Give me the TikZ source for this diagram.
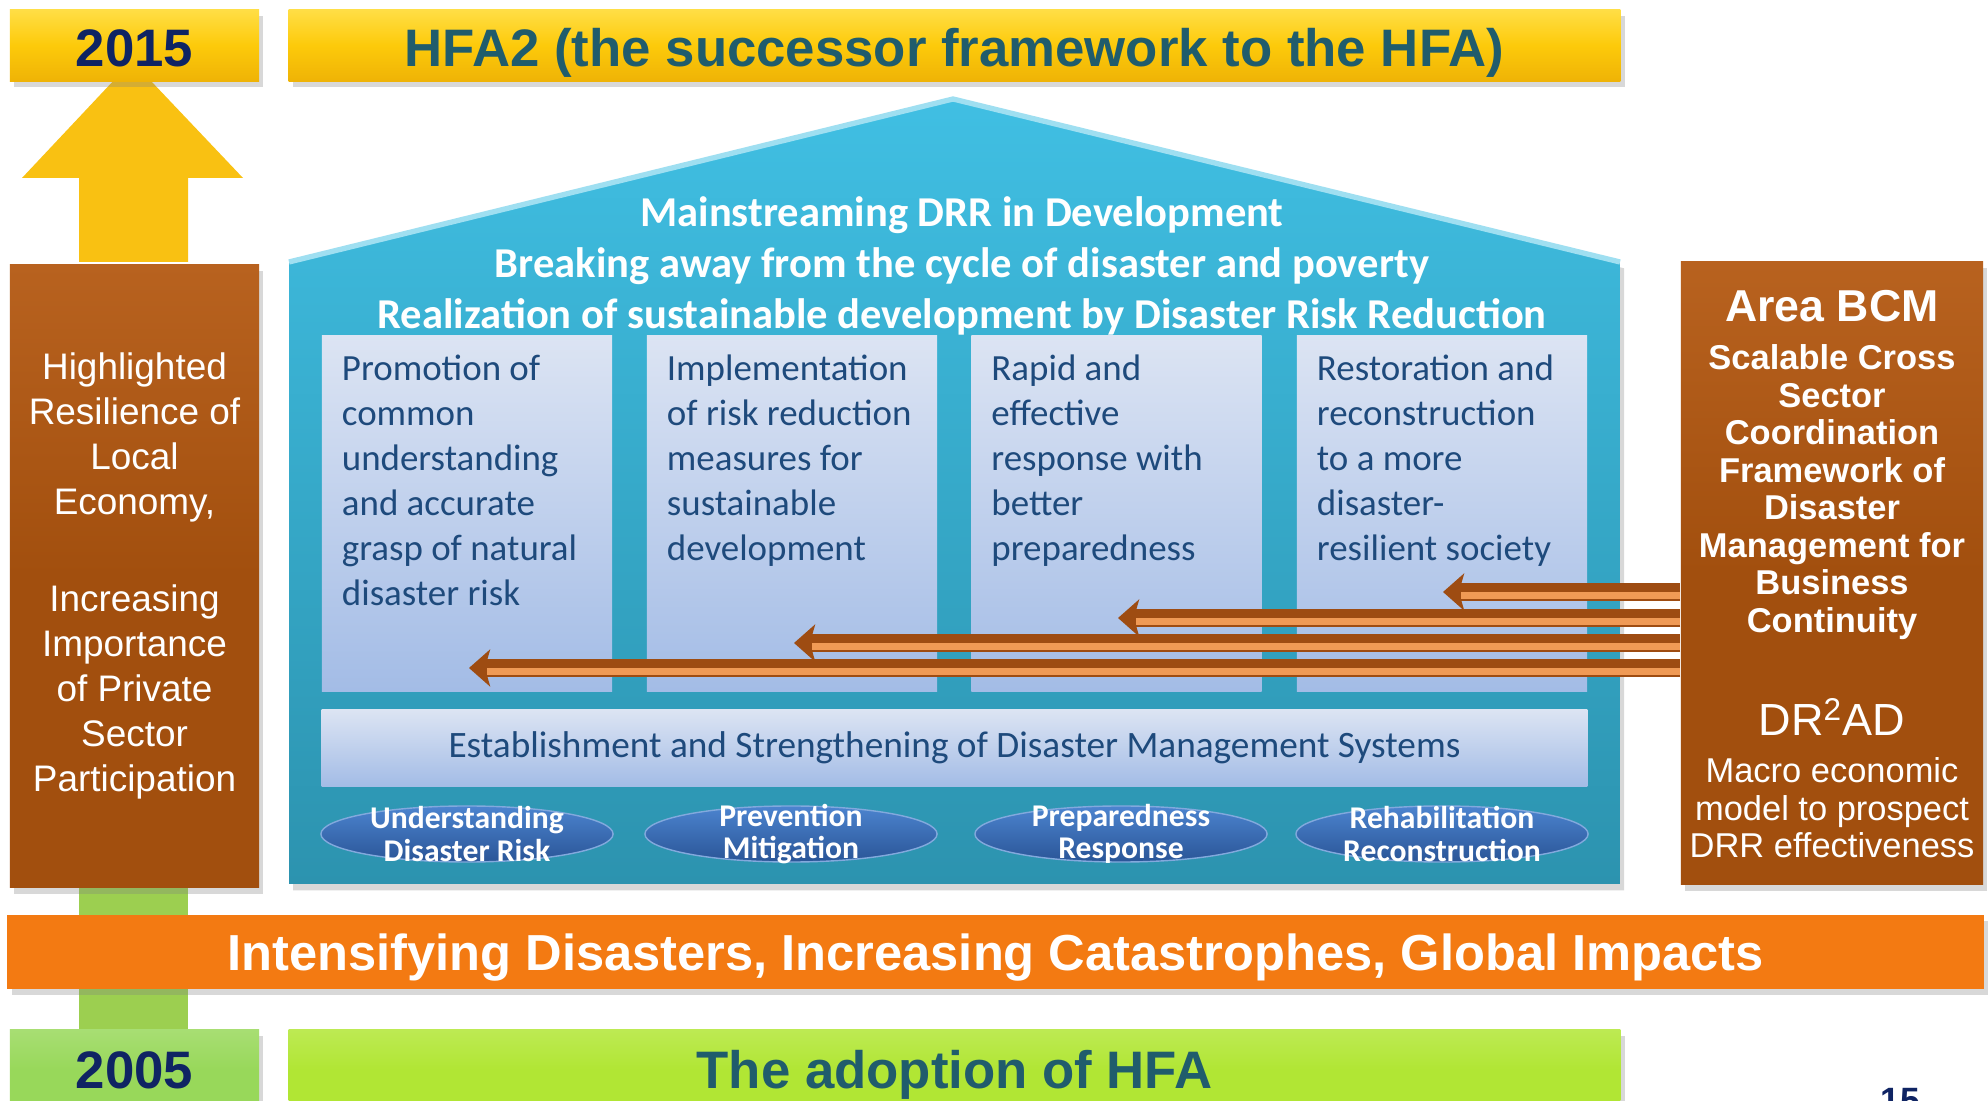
\documentclass[tikz,border=0pt]{standalone}
\usepackage{fontspec}
\setmainfont{Liberation Sans}
\newfontfamily\calibri{Carlito}
\usetikzlibrary{shapes.geometric,arrows.meta,shadows}

\definecolor{gold}{HTML}{FDCA0A}
\definecolor{goldhi}{HTML}{FFDE45}
\definecolor{goldlo}{HTML}{EFB306}
\definecolor{arrowgold}{HTML}{F9C112}
\definecolor{rust}{HTML}{A24F0E}
\definecolor{rusthi}{HTML}{B8621F}
\definecolor{navy}{HTML}{0F2463}
\definecolor{hfateal}{HTML}{205C6C}
\definecolor{houseTop}{HTML}{40BFE3}
\definecolor{houseBot}{HTML}{2C93AF}
\definecolor{paleTop}{HTML}{DCE4F3}
\definecolor{paleBot}{HTML}{A3BCE6}
\definecolor{ink}{HTML}{1E4A7C}
\definecolor{discTop}{HTML}{4C84CF}
\definecolor{discBot}{HTML}{2A5597}
\definecolor{flame}{HTML}{F37A12}
\definecolor{lime}{HTML}{B1E634}
\definecolor{leaf}{HTML}{98D85A}
\definecolor{stem}{HTML}{9CCF50}
\definecolor{copper}{HTML}{9E4C12}
\definecolor{copperhi}{HTML}{F09A55}

\newcommand{\yearfont}{\bfseries\fontsize{15}{18}\selectfont}

\begin{document}
\begin{tikzpicture}[x=0.01cm,y=-0.01cm,line join=round,
    slab/.style={inner sep=0pt,drop shadow={opacity=0.3,shadow xshift=1.2pt,shadow yshift=-1.8pt}},
    goldbar/.style={slab,top color=goldhi,bottom color=goldlo,middle color=gold,text height=12.1pt,text depth=0pt},
    rustbar/.style={slab,top color=rusthi,bottom color=rust,middle color=rust,text=white},
    leafbar/.style={slab,top color=leaf!85!white,bottom color=leaf,middle color=leaf,text height=10.7pt,text depth=0pt},
    limebar/.style={slab,top color=lime!85!white,bottom color=lime,middle color=lime,text height=10.7pt,text depth=0pt},
    colbox/.style={inner sep=0pt,top color=paleTop,bottom color=paleBot,minimum width=2.9cm,minimum height=3.55cm},
    coltext/.style={anchor=north west,align=left,inner sep=0pt,text=ink,font=\calibri\fontsize{10.5}{12.8}\selectfont},
    disc/.style={ellipse,minimum width=2.92cm,minimum height=0.56cm,inner sep=0pt,top color=discTop,bottom color=discBot,draw=discTop!70!white,line width=0.4pt},
    disctext/.style={text=white,align=center,inner sep=0pt,font=\calibri\bfseries\fontsize{9}{9.2}\selectfont},
    bcmarrow/.style={draw=copper,line width=5pt,-{Stealth[length=6pt,width=10.5pt,inset=1.5pt]},
      postaction={draw=copperhi,line width=2pt,arrows=-,shorten >=5pt,transform canvas={yshift=-1pt}}}]
  \clip (0,0) rectangle (1988,1101);
  \fill[white] (0,0) rectangle (1988,1101);
  % time arrow and green stem
  \fill[arrowgold] (79,262) -- (79,178) -- (22,178) -- (132,61) -- (243,178) -- (188,178) -- (188,262) -- cycle;
  \fill[stem] (79,884) rectangle (188,1030);
  % top row
  \node[goldbar,minimum width=2.49cm,minimum height=0.71cm,font=\yearfont,text=navy] (y2015) at (134.5,45.5) {2015};
  \node[goldbar,minimum width=13.31cm,minimum height=0.71cm,font=\yearfont,text=hfateal] (hfa2) at (954.5,45.5) {HFA2 (the successor framework to the HFA)};
  % the house
  \path[top color=houseTop,bottom color=houseBot,drop shadow={opacity=0.3,shadow xshift=1.2pt,shadow yshift=-1.8pt}]
    (289,262) -- (953,99) -- (1620,262) -- (1620,884) -- (289,884) -- cycle;
  \draw[houseTop!50!white,line width=1.5pt] (289,262) -- (953,99) -- (1620,262);
  \node[text=white,align=center,font=\calibri\bfseries\fontsize{12.1}{14.6}\selectfont] (aims) at (962,266)
    {Mainstreaming DRR in Development\\Breaking away from the cycle of disaster and poverty\\Realization of sustainable development by Disaster Risk Reduction};
  \foreach \x/\name/\txt in {467/c1/{Promotion of\\common\\understanding\\and accurate\\grasp of natural\\disaster risk},
      792/c2/{Implementation\\of risk reduction\\measures for\\sustainable\\development},
      1116.5/c3/{Rapid and\\effective\\response with\\better\\preparedness},
      1442/c4/{Restoration and\\reconstruction\\to a more\\disaster-\\resilient society}}
  {
    \node[colbox] (\name) at (\x,513.5) {};
    \node[coltext] at ([xshift=0.2cm,yshift=-0.19cm]\name.north west) {\txt};
  }
  \node[colbox,minimum width=12.65cm,minimum height=0.76cm,text=ink,font=\calibri\fontsize{10.6}{12.8}\selectfont] (ems) at (954.5,748)
    {Establishment and Strengthening of Disaster Management Systems};
  \foreach \x/\name/\lbl in {467/e1/{Understanding\\Disaster Risk},791/e2/{Prevention\\Mitigation},
      1121/e3/{Preparedness\\Response},1442/e4/{Rehabilitation\\Reconstruction}}
  {
    \node[disc] (\name) at (\x,834) {};
    \node[disctext] at (\name) {\lbl};
  }
  % side boxes
  \node[rustbar,minimum width=2.49cm,minimum height=6.22cm,align=center,font=\fontsize{10.5}{12.8}\selectfont] (econ) at (134.5,576)
    {Highlighted\\Resilience of\\Local\\Economy,\\[15pt]Increasing\\Importance\\of Private\\Sector\\Participation};
  \node[rustbar,minimum width=3.02cm,minimum height=6.22cm] (bcm) at (1832,573) {};
  \node[text=white,font=\bfseries\fontsize{12.7}{14}\selectfont] (bcmtitle) at (1832,306) {Area BCM};
  \node[text=white,align=center,font=\bfseries\fontsize{9.8}{10.67}\selectfont] (bcmbody) at (1832,492)
    {Scalable Cross\\Sector\\Coordination\\Framework of\\Disaster\\Management for\\Business\\Continuity};
  \node[text=white,font=\fontsize{12.8}{14}\selectfont] (drad) at (1832,717) {DR\textsuperscript{2}AD};
  \node[text=white,align=center,font=\fontsize{9.8}{10.67}\selectfont] (dradbody) at (1832,808)
    {Macro economic\\model to prospect\\DRR effectiveness};
  % arrows from Area BCM into the columns
  \foreach \k/\tx/\ty in {1/1443/592,2/1118/618,3/794/643,4/469/668}
  {
    \coordinate (tip\k) at (\tx,\ty);
    \draw[bcmarrow] (bcm.west |- tip\k) -- (tip\k);
  }
  % bottom rows
  \node[slab,fill=flame,minimum width=19.75cm,minimum height=0.74cm,text height=10.3pt,text depth=0pt,text=white,font=\bfseries\fontsize{14.4}{17}\selectfont] (trend) at (995.5,952)
    {Intensifying Disasters, Increasing Catastrophes, Global Impacts};
  \node[leafbar,minimum width=2.49cm,minimum height=0.8cm,font=\yearfont,text=navy] (y2005) at (134.5,1070) {2005};
  \node[limebar,minimum width=13.31cm,minimum height=0.8cm,font=\yearfont,text=hfateal] (hfa) at (954.5,1070) {The adoption of HFA};
  \node[anchor=north,inner sep=0pt,text=navy,font=\bfseries\fontsize{10}{12}\selectfont] (page) at (1900,1088) {15};
\end{tikzpicture}
\end{document}
